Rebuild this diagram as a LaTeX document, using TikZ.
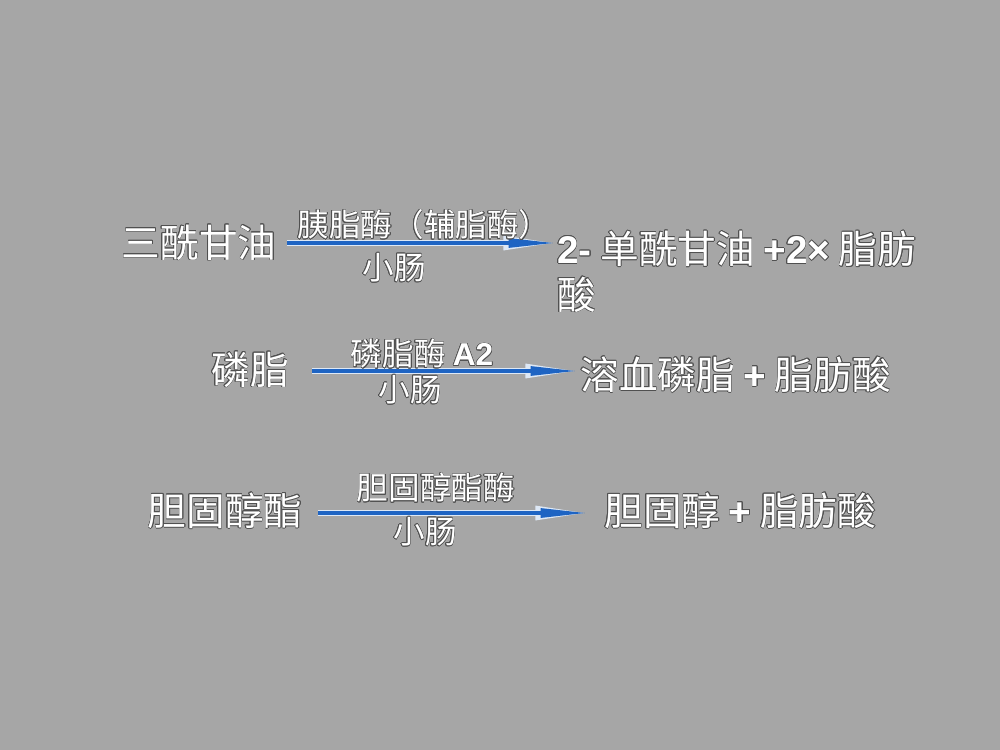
\documentclass[tikz,border=0pt]{standalone}
\usepackage{fontspec}
\setmainfont{Liberation Sans}
\newfontfamily\cjk{Noto Sans CJK SC}
\usepackage{contour}
\contourlength{0.35pt}
\contournumber{16}
\usetikzlibrary{arrows.meta}
\usepackage{xcolor}

\definecolor{bggray}{RGB}{166,166,166}
\definecolor{arrowblue}{RGB}{30,100,195}
\definecolor{rim}{RGB}{80,80,80}
\newcommand{\rimtxt}[1]{\contour{rim}{#1}}
\newcommand{\lat}[1]{{\rmfamily\bfseries #1}}

\begin{document}
\begin{tikzpicture}[x=0.02cm, y=-0.02cm,
    big/.style={text=white, inner sep=0pt, font=\fontsize{22}{26}\selectfont\cjk},
    small/.style={text=white, inner sep=0pt, font=\fontsize{18}{22}\selectfont\cjk},
    rimline/.style={white!85!arrowblue, line width=3.2pt, -{Triangle[length=30pt,width=7.5pt]}},
    coreline/.style={arrowblue, line width=2pt, -{Triangle[length=27pt,width=5pt]}}]
    \fill[bggray] (0,0) rectangle (1000,750);

    % triacylglycerol
    \coordinate (tg-s) at (287,243);
    \coordinate (tg-e) at (556,243);
    \draw[rimline] (tg-s) -- (tg-e);
    \draw[coreline] (tg-s) -- (tg-e);
    \node[big] (tg) at (199,243) {\rimtxt{三酰甘油}};
    \node[small] (tg-up) at (424,225) {\rimtxt{胰脂酶（辅脂酶）}};
    \node[small] (tg-dn) at (394,268) {\rimtxt{小肠}};
    \node[big, anchor=west, align=left] (mg) at (557,272)
        {\rimtxt{\lat{2-} 单酰甘油 \lat{+2×} 脂肪}\\\rimtxt{酸}};

    % phospholipid
    \coordinate (pl-s) at (312,371);
    \coordinate (pl-e) at (578,371);
    \draw[rimline] (pl-s) -- (pl-e);
    \draw[coreline] (pl-s) -- (pl-e);
    \node[big] (pl) at (250,370) {\rimtxt{磷脂}};
    \node[small] (pl-up) at (422,354) {\rimtxt{磷脂酶 \lat{A2}}};
    \node[small] (pl-dn) at (410,390) {\rimtxt{小肠}};
    \node[big, anchor=west] (lyso) at (580,375) {\rimtxt{溶血磷脂 \lat{+} 脂肪酸}};

    % cholesterol ester
    \coordinate (ce-s) at (318,513);
    \coordinate (ce-e) at (588,513);
    \draw[rimline] (ce-s) -- (ce-e);
    \draw[coreline] (ce-s) -- (ce-e);
    \node[big] (ce) at (225,511) {\rimtxt{胆固醇酯}};
    \node[small] (ce-up) at (436,488) {\rimtxt{胆固醇酯酶}};
    \node[small] (ce-dn) at (425,532) {\rimtxt{小肠}};
    \node[big, anchor=west] (chol) at (604,511) {\rimtxt{胆固醇 \lat{+} 脂肪酸}};
\end{tikzpicture}
\end{document}
